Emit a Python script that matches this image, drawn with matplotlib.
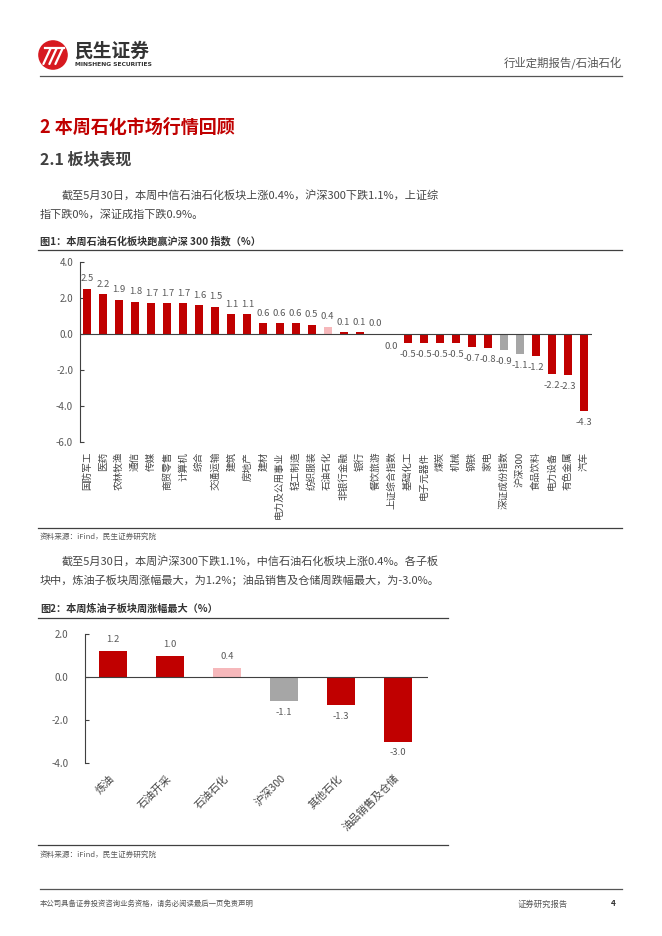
import matplotlib
matplotlib.use("Agg")
import matplotlib.pyplot as plt
from matplotlib.patches import Circle
from matplotlib.lines import Line2D

plt.rcParams['font.family'] = ['Noto Sans CJK SC', 'DejaVu Sans']

# ---------------- data ----------------
cats1 = ["国防军工", "医药", "农林牧渔", "通信", "传媒", "商贸零售", "计算机", "综合",
         "交通运输", "建筑", "房地产", "建材", "电力及公用事业", "轻工制造", "纺织服装",
         "石油石化", "非银行金融", "银行", "餐饮旅游", "上证综合指数", "基础化工",
         "电子元器件", "煤炭", "机械", "钢铁", "家电", "深证成份指数", "沪深300",
         "食品饮料", "电力设备", "有色金属", "汽车"]
vals1 = [2.5, 2.2, 1.9, 1.8, 1.7, 1.7, 1.7, 1.6, 1.5, 1.1, 1.1, 0.6, 0.6, 0.6, 0.5,
         0.4, 0.1, 0.1, 0.02, -0.04, -0.5, -0.5, -0.5, -0.5, -0.7, -0.8, -0.9, -1.1,
         -1.2, -2.2, -2.3, -4.3]
yticks1 = [4.0, 2.0, 0.0, -2.0, -4.0, -6.0]

cats2 = ["炼油", "石油开采", "石油石化", "沪深300", "其他石化", "油品销售及仓储"]
vals2 = [1.2, 1.0, 0.4, -1.1, -1.3, -3.0]
yticks2 = [2.0, 0.0, -2.0, -4.0]

RED = "#C00000"
PINK = "#F6B8BB"
GRAY = "#A6A6A6"
TXT = "#454545"
highlight = {"石油石化": PINK, "上证综合指数": GRAY, "深证成份指数": GRAY, "沪深300": GRAY}

W, H = 662, 936
fig = plt.figure(figsize=(W / 100, H / 100), dpi=100)


def fx(x):
    return x / W


def fy(y):
    return 1 - y / H


def ftext(x, y, s, **kw):
    kw.setdefault("color", TXT)
    kw.setdefault("va", "center")
    fig.text(fx(x), fy(y), s, **kw)


def hline(y, x0, x1, color="#404040", lw=0.9):
    fig.add_artist(Line2D([fx(x0), fx(x1)], [fy(y), fy(y)], color=color, lw=lw,
                          transform=fig.transFigure))


def fmt(v):
    s = f"{v:.1f}"
    return "0.0" if s == "-0.0" else s


# ---------------- header ----------------
logo_ax = fig.add_axes([fx(38), fy(70), fx(30), 30 / H])
logo_ax.set_xlim(0, 1)
logo_ax.set_ylim(0, 1)
logo_ax.set_aspect("equal")
logo_ax.axis("off")
logo_ax.add_patch(Circle((0.5, 0.5), 0.47, color="#D71920"))
for dx in (0.0, 0.2, 0.4):
    logo_ax.plot([0.18 + dx, 0.42 + dx], [0.2, 0.72], color="white", lw=1.6,
                 solid_capstyle="round")
logo_ax.plot([0.22, 0.85], [0.72, 0.72], color="white", lw=1.6)
ftext(75, 51, "民生证券", fontsize=13.5, fontweight="bold", color="#333333")
ftext(75, 65, "MINSHENG SECURITIES", fontsize=4.3, fontweight="bold", color="#333333",
      family=["DejaVu Sans"])
ftext(622, 63, "行业定期报告/石油石化", fontsize=8.2, ha="right", color="#555555")
hline(76, 40, 622, color="#555555", lw=0.9)

# ---------------- text blocks ----------------
ftext(40, 127, "2 本周石化市场行情回顾", fontsize=13, fontweight="bold", color="#C00000")
ftext(40, 159, "2.1 板块表现", fontsize=11.5, fontweight="bold", color="#404040")
ftext(62, 195, "截至5月30日，本周中信石油石化板块上涨0.4%，沪深300下跌1.1%，上证综",
      fontsize=8)
ftext(40, 214, "指下跌0%，深证成指下跌0.9%。", fontsize=8)
ftext(40, 241, "图1：本周石油石化板块跑赢沪深 300 指数（%）", fontsize=7.3, fontweight="bold",
      color="#333333")
hline(250, 38, 622)

ftext(40, 537, "资料来源：iFind，民生证券研究院", fontsize=5.5, color="#595959")
hline(528, 38, 622)

ftext(62, 561, "截至5月30日，本周沪深300下跌1.1%，中信石油石化板块上涨0.4%。各子板",
      fontsize=8)
ftext(40, 580, "块中，炼油子板块周涨幅最大，为1.2%；油品销售及仓储周跌幅最大，为-3.0%。",
      fontsize=8)
ftext(40, 609, "图2：本周炼油子板块周涨幅最大（%）", fontsize=7.3, fontweight="bold",
      color="#333333")
hline(618, 38, 448)

ftext(40, 855, "资料来源：iFind，民生证券研究院", fontsize=5.5, color="#595959")
hline(845, 38, 448)

# footer
hline(889, 40, 622, color="#555555")
ftext(40, 904, "本公司具备证券投资咨询业务资格，请务必阅读最后一页免责声明", fontsize=5.3,
      color="#555555")
ftext(518, 904, "证券研究报告", fontsize=6, color="#555555")
ftext(616, 904, "4", fontsize=6, fontweight="bold", color="#333333", ha="right")

# ---------------- chart 1 ----------------
ax1 = fig.add_axes([fx(80), fy(442), (592 - 80) / W, (442 - 262) / H])
x1 = list(range(len(cats1)))
cols1 = [highlight.get(c, RED) for c in cats1]
ax1.bar(x1, vals1, width=0.5, color=cols1, zorder=2)
ax1.set_xlim(-0.45, len(cats1) - 0.5)
ax1.set_ylim(-6, 4)
ax1.set_yticks(yticks1)
ax1.set_yticklabels([f"{t:.1f}" for t in yticks1], fontsize=7, color="#595959")
ax1.tick_params(axis="y", direction="in", length=3, width=0.8, colors="#404040",
                labelcolor="#595959", pad=5)
ax1.set_xticks(x1)
ax1.set_xticklabels(cats1, rotation=90, fontsize=6.9, color="#454545", va="top",
                    ha="center")
ax1.tick_params(axis="x", length=0, pad=7)
for s in ("top", "right", "bottom"):
    ax1.spines[s].set_visible(False)
ax1.spines["left"].set_color("#404040")
ax1.spines["left"].set_linewidth(0.8)
ax1.axhline(0, color="#404040", lw=0.8, zorder=3)
for xi, v in zip(x1, vals1):
    if v >= 0:
        ax1.annotate(fmt(v), (xi, v), xytext=(0, 4), textcoords="offset points",
                     ha="center", va="bottom", fontsize=6.8, color="#595959")
    else:
        ax1.annotate(fmt(v), (xi, v), xytext=(0, -5), textcoords="offset points",
                     ha="center", va="top", fontsize=6.8, color="#595959")

# ---------------- chart 2 ----------------
ax2 = fig.add_axes([fx(85), fy(763), (428 - 85) / W, (763 - 634) / H])
x2 = list(range(len(cats2)))
cols2 = [highlight.get(c, RED) for c in cats2]
ax2.bar(x2, vals2, width=0.5, color=cols2, zorder=2)
ax2.set_xlim(-0.49, len(cats2) - 0.47)
ax2.set_ylim(-4, 2)
ax2.set_yticks(yticks2)
ax2.set_yticklabels([f"{t:.1f}" for t in yticks2], fontsize=7, color="#595959")
ax2.tick_params(axis="y", direction="in", length=3, width=0.8, colors="#404040",
                labelcolor="#595959", pad=12)
ax2.set_xticks(x2)
ax2.set_xticklabels(cats2, rotation=45, fontsize=7.7, color="#454545", ha="right",
                    va="center", rotation_mode="anchor")
ax2.tick_params(axis="x", length=0, pad=10)
for s in ("top", "right", "bottom"):
    ax2.spines[s].set_visible(False)
ax2.spines["left"].set_color("#404040")
ax2.spines["left"].set_linewidth(0.8)
ax2.axhline(0, color="#404040", lw=0.8, zorder=3)
for xi, v in zip(x2, vals2):
    if v >= 0:
        ax2.annotate(fmt(v), (xi, v), xytext=(0, 5), textcoords="offset points",
                     ha="center", va="bottom", fontsize=6.8, color="#595959")
    else:
        ax2.annotate(fmt(v), (xi, v), xytext=(0, -5), textcoords="offset points",
                     ha="center", va="top", fontsize=6.8, color="#595959")

fig.savefig("out.png", dpi=100, facecolor="white")
